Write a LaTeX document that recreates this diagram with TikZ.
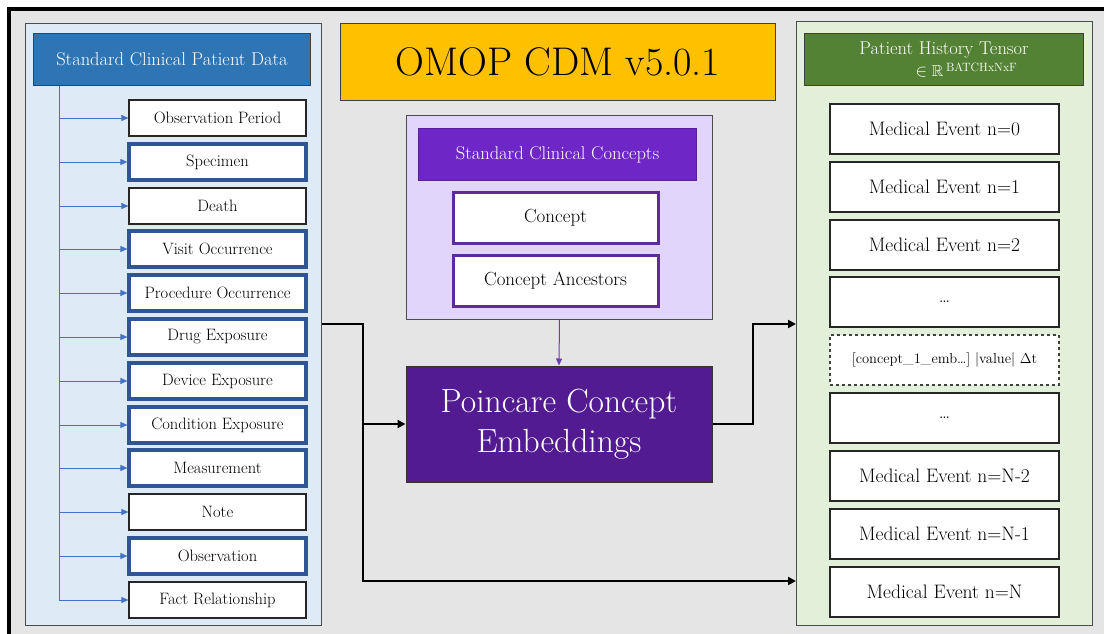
\documentclass[tikz,border=0pt]{standalone}
\usepackage{amssymb}
\usepackage{fontspec}
\usepackage{xcolor}
\usetikzlibrary{arrows.meta, positioning, calc}
\definecolor{BgGray}{RGB}{229, 229, 229}
\definecolor{PanelBlue}{RGB}{222, 235, 247}
\definecolor{PanelGreen}{RGB}{226, 240, 217}
\definecolor{PanelPurple}{RGB}{225, 213, 251}
\definecolor{HdrBlue}{RGB}{46, 117, 182}
\definecolor{HdrGreen}{RGB}{84, 130, 53}
\definecolor{HdrPurple}{RGB}{110, 38, 198}
\definecolor{PoinPurple}{RGB}{82, 27, 146}
\definecolor{EdgeBlue}{RGB}{47, 85, 151}
\definecolor{EdgePurple}{RGB}{94, 42, 160}
\definecolor{ArrBlue}{RGB}{68, 114, 196}
\definecolor{OmopGold}{RGB}{255, 192, 0}
\newcommand{\fs}[1]{\fontsize{#1}{1.2\dimexpr#1pt\relax}\selectfont}

\begin{document}
\begin{tikzpicture}[x=1pt, y=-1pt,
  panel/.style={draw=black!70, line width=1pt, inner sep=0pt, anchor=north west},
  hdr/.style={draw=black!75, line width=1pt, text=white, inner sep=0pt,
              anchor=north west, align=center},
  tbl/.style={draw=black!85, line width=1.1pt, fill=white, inner sep=0pt,
              minimum width=177pt, minimum height=36pt, font=\fs{16.5}},
  tblk/.style={tbl, draw=EdgeBlue, line width=3.2pt},
  cpt/.style={draw=EdgePurple, line width=3pt, fill=white, inner sep=0pt,
              minimum width=205pt, minimum height=51pt, font=\fs{19}},
  evt/.style={draw=black!85, line width=1.1pt, fill=white, inner sep=0pt,
              minimum width=229pt, minimum height=50pt, font=\fs{19.5}},
  bl/.style={ArrBlue, line width=0.8pt},
  blarr/.style={bl, -{Triangle[length=7pt, width=6pt]}},
  blk/.style={black, line width=2.6pt, line join=miter,
              -{Triangle[length=8pt, width=8pt]}}
]
  \useasboundingbox (0,0) rectangle (1104,634);
  \fill[white] (0,0) rectangle (1104,634);
  \draw[line width=3.5pt, fill=BgGray] (9,9) rectangle (1130,660);

  % ---- patient data (left) ----
  \node[panel, fill=PanelBlue, minimum width=296pt, minimum height=602pt]
    (lpanel) at (25,23) {};
  \node[hdr, fill=HdrBlue, minimum width=277pt, minimum height=52pt,
        font=\fs{18.5}] (ldata) at (33,33) {Standard Clinical Patient Data};
  \node[tbl]  (obsp) at (217.5,118) {Observation Period};
  \node[tblk] (spec) at (217.5,162) {Specimen};
  \node[tbl]  (dth)  at (217.5,206) {Death};
  \node[tblk] (visit) at (217.5,249) {Visit Occurrence};
  \node[tblk] (proc) at (217.5,293) {Procedure Occurrence};
  \node[tblk] (drug) at (217.5,337) {Drug Exposure};
  \node[tblk] (dev)  at (217.5,381) {Device Exposure};
  \node[tblk] (cond) at (217.5,425) {Condition Exposure};
  \node[tblk] (meas) at (217.5,468) {Measurement};
  \node[tbl]  (note) at (217.5,512) {Note};
  \node[tblk] (obs)  at (217.5,556) {Observation};
  \node[tbl]  (fact) at (217.5,600) {Fact Relationship};

  \coordinate (tk) at (ldata.south -| 59,0);
  \draw[bl] (tk) -- (tk |- fact.west);
  \draw[blarr] (tk |- obsp.west) -- (obsp); \draw[blarr] (tk |- spec.west) -- (spec);
  \draw[blarr] (tk |- dth.west) -- (dth);   \draw[blarr] (tk |- visit.west) -- (visit);
  \draw[blarr] (tk |- proc.west) -- (proc); \draw[blarr] (tk |- drug.west) -- (drug);
  \draw[blarr] (tk |- dev.west) -- (dev);   \draw[blarr] (tk |- cond.west) -- (cond);
  \draw[blarr] (tk |- meas.west) -- (meas); \draw[blarr] (tk |- note.west) -- (note);
  \draw[blarr] (tk |- obs.west) -- (obs);   \draw[blarr] (tk |- fact.west) -- (fact);

  % ---- OMOP + concepts (centre) ----
  \node[draw=black!75, line width=1pt, fill=OmopGold, inner sep=0pt,
        minimum width=435pt, minimum height=77pt, font=\fs{40},
        anchor=north west] (omop) at (340,23) {OMOP CDM v5.0.1};
  \node[panel, fill=PanelPurple, minimum width=306pt, minimum height=204pt]
    (cpanel) at (406,115) {};
  \node[hdr, fill=HdrPurple, draw=HdrPurple!80!black, minimum width=278pt,
        minimum height=52pt, font=\fs{18.5}] (ccpt) at (418,128)
    {Standard Clinical Concepts};
  \node[cpt] (cncp) at (555.5,217.5) {Concept};
  \node[cpt] (canc) at (555.5,280.5) {Concept Ancestors};
  \node[draw=black!80, line width=1pt, fill=PoinPurple, text=white,
        inner sep=0pt, minimum width=306pt, minimum height=116pt,
        font=\fs{33.5}, align=center] (poin) at (559,424)
    {Poincare Concept\\Embeddings};
  \draw[EdgePurple!90!white, line width=1pt,
        -{Triangle[length=7pt, width=6pt]}] (cpanel.south) -- (poin.north);

  % ---- patient history tensor (right) ----
  \node[panel, fill=PanelGreen, minimum width=296pt, minimum height=604pt]
    (rpanel) at (796,21) {};
  \node[hdr, fill=HdrGreen, minimum width=279pt, minimum height=52pt,
        font=\fs{18.5}] (hist) at (804,33)
    {Patient History Tensor\\[-1pt]
     \hspace*{2.4em}{\fs{16}$\in\mathbb{R}$\,\raisebox{5pt}{\fs{12}BATCHxNxF}}};
  \node[evt] (ev0)  at (944.5,129) {Medical Event n=0};
  \node[evt] (ev1)  at (944.5,187) {Medical Event n=1};
  \node[evt] (ev2)  at (944.5,245) {Medical Event n=2};
  \node[evt] (dtsa) at (944.5,302) {\ldots};
  \node[evt, dashed, draw=black!75, font=\fs{14.5}] (emb) at (944.5,360)
    {[concept\_1\_emb\ldots] |value| $\Delta$t};
  \node[evt] (dtsb) at (944.5,418) {\ldots};
  \node[evt] (evn2) at (944.5,476) {Medical Event n=N-2};
  \node[evt] (evn1) at (944.5,534) {Medical Event n=N-1};
  \node[evt] (evn)  at (944.5,592) {Medical Event n=N};

  % ---- flow ----
  \coordinate (tap) at (lpanel.east |- 0,324);
  \coordinate (jn)  at (363,324);
  \coordinate (in0) at (rpanel.west |- 0,324);
  \coordinate (inN) at (rpanel.west |- 0,581);
  \draw[blk] (tap) -- (jn) -- (jn |- inN) -- (inN);
  \draw[blk] (jn |- poin.west) -- (poin.west);
  \draw[blk] (poin.east) -- (753,424) -- (753,324) -- (in0);
\end{tikzpicture}
\end{document}
